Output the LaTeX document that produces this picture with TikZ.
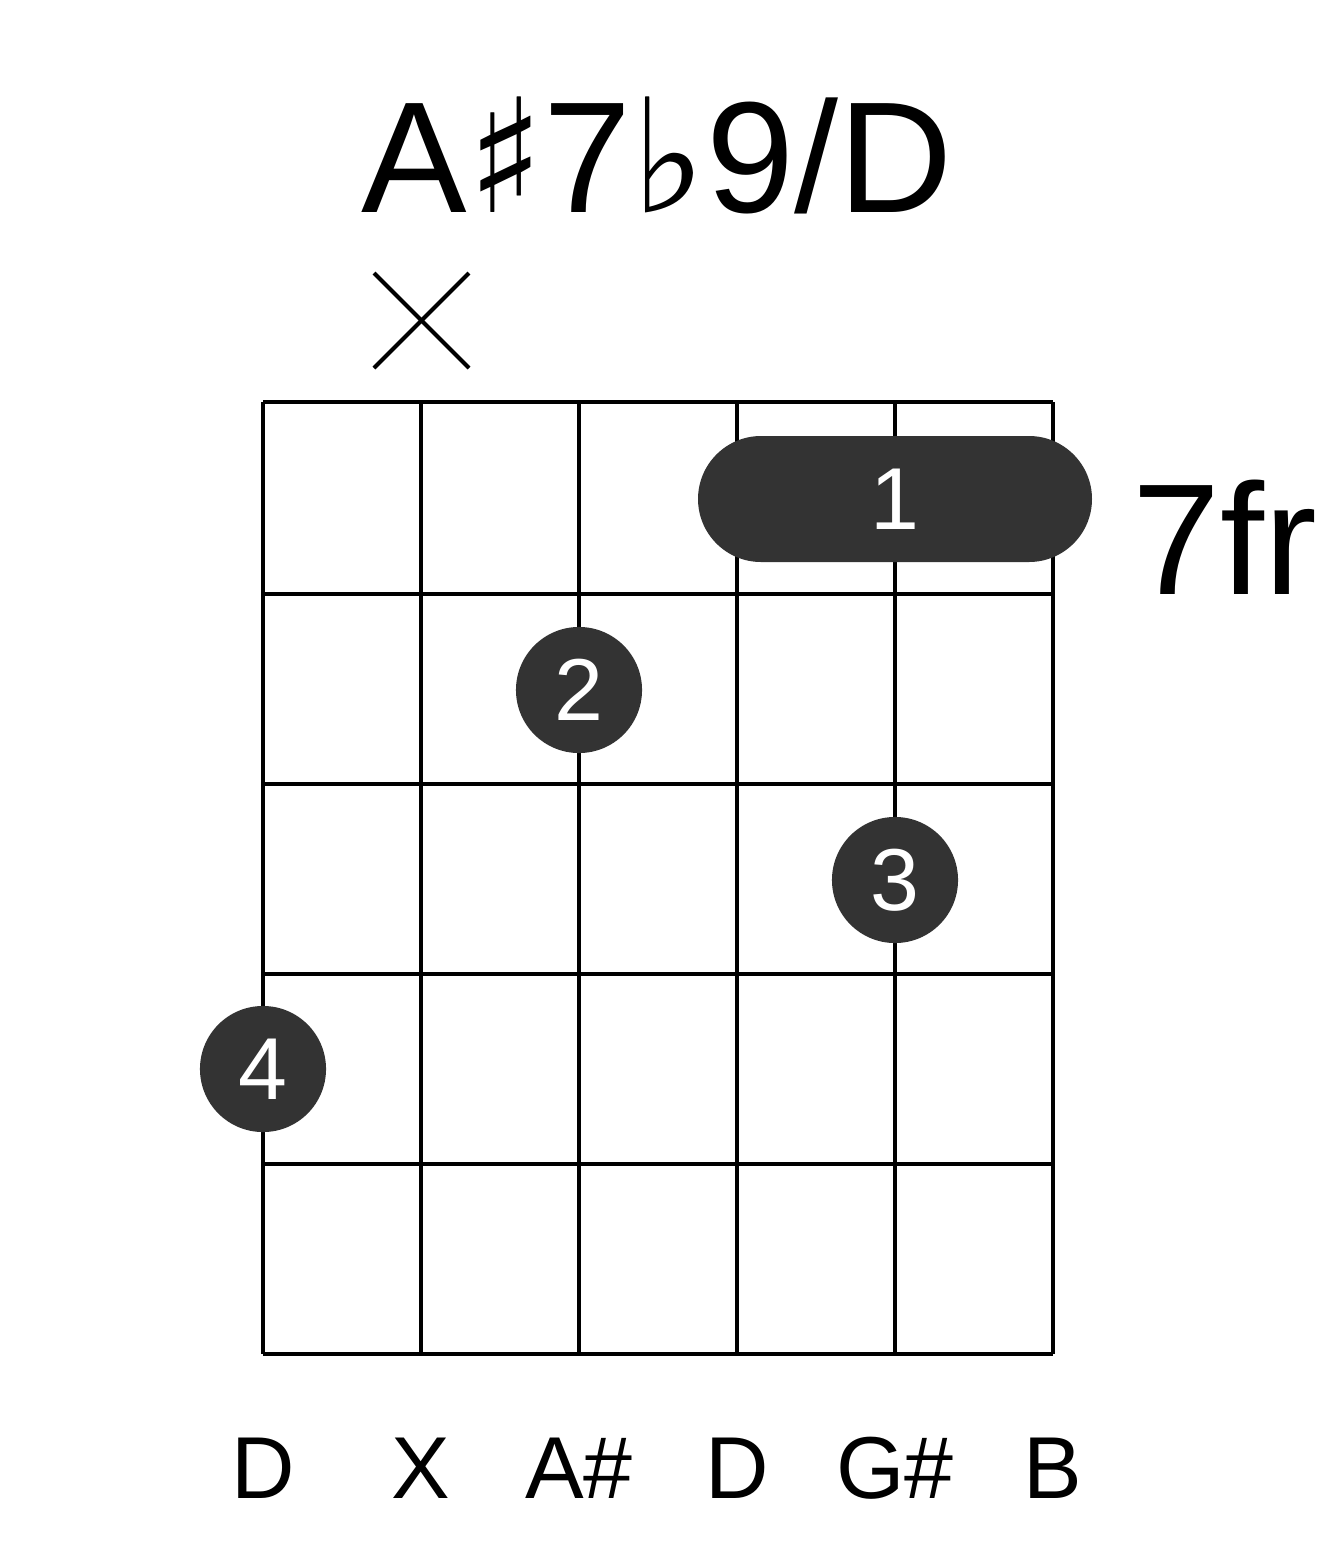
\documentclass[tikz,border=0pt]{standalone}
\usepackage{fontspec}
\setmainfont{Liberation Sans}
\newfontfamily\symfont{DejaVu Sans}
\definecolor{dotgray}{HTML}{333333}
\tikzset{
  grid line/.style={line width=1.2pt,black},
  finger/.style={circle,fill=dotgray,minimum size=1.26cm,inner sep=0pt,text=white,font={\fontsize{25pt}{30pt}\selectfont}},
  string name/.style={font={\fontsize{25pt}{30pt}\selectfont}},
  big label/.style={font={\fontsize{45pt}{54pt}\selectfont}}}
\begin{document}
\begin{tikzpicture}[x=0.01cm,y=-0.01cm]
\useasboundingbox (0,0) rectangle (1317,1551);
% grid
\foreach \x in {263,421,579,737,895,1053}
  \draw [grid line] (\x,402) -- (\x,1354);
\foreach \y in {402,594,784,974,1164,1354}
  \draw [grid line] (263,\y) -- (1053,\y);
% title and fret
\node [big label] (title) at (657,155) {A{\symfont\char"266F}7{\symfont\char"266D}9/D};
\node [big label] (fret) at (1225,537) {7fr};
% muted string
\draw [line width=1.2pt] (374,273) -- (469,368);
\draw [line width=1.2pt] (374,368) -- (469,273);
% barre
\draw [fill=dotgray,draw=none,rounded corners=0.63cm] (698,436) rectangle (1092,562);
\node [text=white,font={\fontsize{25pt}{30pt}\selectfont}] (f1) at (895,499) {1};
% fingers
\node [finger] (f2) at (579,690) {2};
\node [finger] (f3) at (895,880) {3};
\node [finger] (f4) at (263,1069) {4};
% string names
\foreach \x/\n [count=\i] in {263/D,421/X,579/A\#,737/D,895/G\#,1053/B}
  \node [string name] (s\i) at (\x,1468) {\n};
\end{tikzpicture}
\end{document}
